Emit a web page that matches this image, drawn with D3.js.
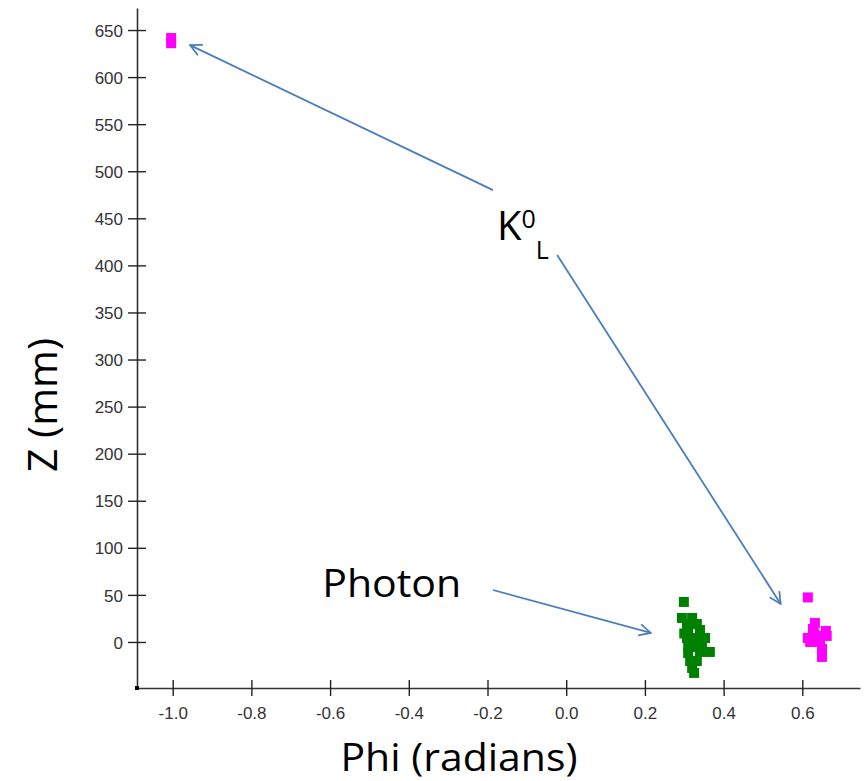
<!DOCTYPE html>
<html>
<head>
<meta charset="utf-8">
<script src="https://cdn.jsdelivr.net/npm/d3@7"></script>
<style>
  html, body { margin: 0; padding: 0; background: #fff; }
  svg { display: block; }
</style>
</head>
<body>
<svg id="chart" width="866" height="781"></svg>
<script>
// ---- data ----
const photonPhi = [0.299, 0.294, 0.320, 0.307, 0.332, 0.310, 0.340, 0.307, 0.332, 0.353, 0.310, 0.335, 0.310, 0.340, 0.365, 0.315, 0.332, 0.320, 0.325, 0.300, 0.322, 0.345];
const photonZ   = [42.5, 25.5, 25.5, 19.1, 19.1, 12.7, 12.7, 4.2, 4.2, 4.2, -5.3, -5.3, -11.7, -10.6, -10.6, -20.2, -20.2, -27.6, -32.9, 9.0, -1.0, -2.0];
const klPhi = [-1.004, -1.004, 0.614, 0.632, 0.627, 0.660, 0.614, 0.637, 0.662, 0.620, 0.645, 0.650, 0.650, 0.630];
const klZ   = [641.5, 636, 47.3, 20.2, 13.8, 11.7, 4.2, 6.4, 6.4, 0, 0, -7.4, -15.9, 9.0];
const yTicks = [0, 50, 100, 150, 200, 250, 300, 350, 400, 450, 500, 550, 600, 650];
const xTicks = [-1.0, -0.8, -0.6, -0.4, -0.2, 0.0, 0.2, 0.4, 0.6];
const xDomain = [-1.0907, 0.7466];
const yDomain = [-48.9, 673.4];
// annotations (data coordinates): [fromPhi, fromZ, toPhi, toZ]
const arrows = [
  [-0.186, 480, -0.956, 634],
  [-0.023, 411, 0.545, 40.4],
  [-0.186, 55.2, 0.215, 9.6]
];
const photonLabel = { text: "Photon", phi: -0.620, z: 47.8 };
const kLabel = { phi: -0.176, z: 427 };

// ---- chart ----
const svg = d3.select("#chart");
const x = d3.scaleLinear().domain(xDomain).range([137, 860]);
const y = d3.scaleLinear().domain(yDomain).range([688, 8]);

const fmt = d => d3.format(".1f")(d).replace("\u2212", "-");

// axes
const gx = svg.append("g").attr("transform", "translate(0,688)")
  .call(d3.axisBottom(x).tickValues(xTicks).tickFormat(fmt).tickSizeOuter(0).tickSize(0).tickPadding(19));
const gy = svg.append("g").attr("transform", "translate(137,0)")
  .call(d3.axisLeft(y).tickValues(yTicks).tickFormat(d3.format("d")).tickSizeOuter(0).tickSize(0).tickPadding(14));

[gx, gy].forEach(g => {
  g.select(".domain").attr("stroke", "#333").attr("stroke-width", 1.6);
  g.selectAll("text").attr("font-family", "Liberation Sans, Arial, sans-serif")
    .attr("font-size", 17).attr("fill", "#333");
});
gx.selectAll(".tick").append("line").attr("y1", -8).attr("y2", 8).attr("stroke", "#222").attr("stroke-width", 1.4);
gy.selectAll(".tick").append("line").attr("x1", -9).attr("x2", 9).attr("stroke", "#222").attr("stroke-width", 1.4);
gy.selectAll(".tick text").attr("dy", "0.36em");

// corner marker
svg.append("rect").attr("x", 135).attr("y", 686).attr("width", 4).attr("height", 4).attr("fill", "#000");

// points
const S = 10;
const pts = svg.append("g");
pts.selectAll("rect.ph").data(d3.zip(photonPhi, photonZ)).join("rect")
  .attr("class", "ph")
  .attr("x", d => x(d[0]) - S / 2).attr("y", d => y(d[1]) - S / 2)
  .attr("width", S).attr("height", S).attr("fill", "#008000");
pts.selectAll("rect.kl").data(d3.zip(klPhi, klZ)).join("rect")
  .attr("class", "kl")
  .attr("x", d => x(d[0]) - S / 2).attr("y", d => y(d[1]) - S / 2)
  .attr("width", S).attr("height", S).attr("fill", "#ff00ff");

// arrows
const defs = svg.append("defs");
defs.append("marker").attr("id", "arr").attr("viewBox", "0 0 10 10")
  .attr("refX", 9).attr("refY", 5).attr("markerWidth", 8).attr("markerHeight", 8)
  .attr("markerUnits", "strokeWidth").attr("orient", "auto")
  .append("path").attr("d", "M1,1 L9,5 L1,9").attr("fill", "none")
  .attr("stroke", "#4a7ebb").attr("stroke-width", 1.2);

svg.append("g").selectAll("line").data(arrows).join("line")
  .attr("x1", d => x(d[0])).attr("y1", d => y(d[1]))
  .attr("x2", d => x(d[2])).attr("y2", d => y(d[3]))
  .attr("stroke", "#4a7ebb").attr("stroke-width", 1.8)
  .attr("marker-end", "url(#arr)");

// labels
const bigFont = "Open Sans, Calibri, sans-serif";
svg.append("text").attr("x", x(photonLabel.phi)).attr("y", y(photonLabel.z))
  .attr("font-family", bigFont).attr("font-size", 38).attr("fill", "#000")
  .attr("textLength", 139).attr("lengthAdjust", "spacingAndGlyphs")
  .text(photonLabel.text);

const kt = svg.append("text").attr("x", x(kLabel.phi)).attr("y", y(kLabel.z))
  .attr("font-family", bigFont).attr("font-size", 40).attr("fill", "#000");
kt.append("tspan").text("K");
kt.append("tspan").attr("font-size", 25).attr("dy", -12).text("0");
kt.append("tspan").attr("font-size", 25).attr("dy", 31).text("L");

svg.append("text").attr("x", 459).attr("y", 771).attr("text-anchor", "middle")
  .attr("font-family", bigFont).attr("font-size", 38).attr("fill", "#000")
  .attr("textLength", 237).attr("lengthAdjust", "spacingAndGlyphs")
  .text("Phi (radians)");

svg.append("text").attr("transform", "translate(57,405) rotate(-90)")
  .attr("text-anchor", "middle")
  .attr("font-family", bigFont).attr("font-size", 40).attr("fill", "#000")
  .attr("textLength", 134).attr("lengthAdjust", "spacingAndGlyphs")
  .text("Z (mm)");
</script>
</body>
</html>
